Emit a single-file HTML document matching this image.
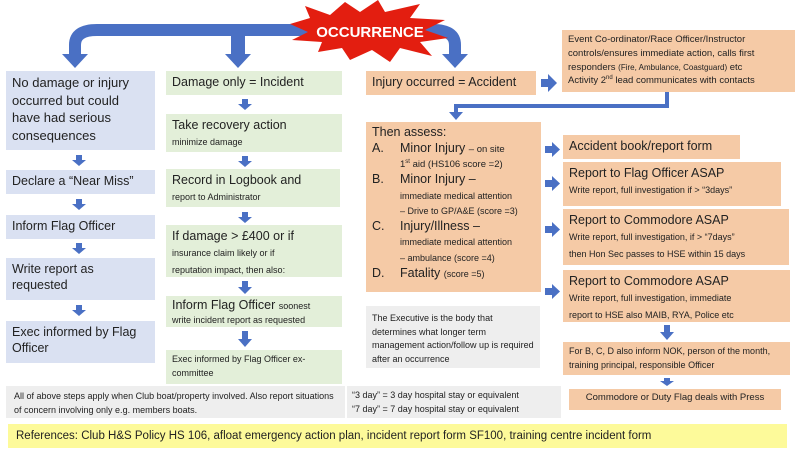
<!DOCTYPE html>
<html><head><meta charset="utf-8"><style>
body{margin:0;width:800px;height:450px;background:#fff;position:relative;overflow:hidden;font-family:"Liberation Sans",sans-serif;color:#222}
.b{position:absolute;box-sizing:border-box;padding:3px 6px;line-height:1.3}
.bl{background:#dae1f2}.gr{background:#e3efd9}.or{background:#f5caa6}.gy{background:#eeeeee}
.L{font-size:12.5px}.S{font-size:9px}.M{font-size:9.5px}
svg{position:absolute;left:0;top:0}
</style></head><body>
<svg width="800" height="450">
<path d="M75,56 L75,45 Q75,30 97,30 L433,30 Q455,30 455,45 L455,56" fill="none" stroke="#4a70c4" stroke-width="12"/>
<polygon points="62,54 88,54 75,68" fill="#4a70c4"/>
<polygon points="225,54 251,54 238,68" fill="#4a70c4"/>
<rect x="231" y="30" width="14" height="26" fill="#4a70c4"/>
<polygon points="442,54 468,54 455,68" fill="#4a70c4"/>
<polygon points="290,24 310,18 305,6 330,15 345,2 360,12 378,0 385,12 420,4 410,18 445,20 425,30 448,38 420,42 432,56 400,48 390,62 372,50 350,60 342,48 318,52 322,42 292,40 308,32" fill="#e31e10"/>
<text x="370" y="37" text-anchor="middle" font-family="Liberation Sans" font-weight="bold" font-size="15" fill="#fff">OCCURRENCE</text>
<path d="M667,92 L667,106 L456,106 L456,114" fill="none" stroke="#4a70c4" stroke-width="4"/>
<polygon points="449,112 463,112 456,120" fill="#4a70c4"/>
<g fill="#4a70c4">
<rect x="541" y="79" width="8" height="8"/><polygon points="548,74 557,83 548,92"/>
<rect x="545" y="146" width="8" height="7"/><polygon points="552,142 560,149.5 552,157"/>
<rect x="545" y="180" width="8" height="7"/><polygon points="552,176 560,183.5 552,191"/>
<rect x="545" y="226" width="8" height="7"/><polygon points="552,222 560,229.5 552,237"/>
<rect x="545" y="288" width="8" height="7"/><polygon points="552,284 560,291.5 552,299"/>
</g>
<g fill="#4a70c4">
<rect x="76" y="155" width="6" height="5"/><polygon points="72,160 86,160 79,166"/>
<rect x="76" y="199" width="6" height="5"/><polygon points="72,204 86,204 79,210"/>
<rect x="76" y="243" width="6" height="5"/><polygon points="72,248 86,248 79,254"/>
<rect x="76" y="305" width="6" height="5"/><polygon points="72,310 86,310 79,316"/>
<rect x="242" y="99" width="6" height="5"/><polygon points="238,104 252,104 245,110"/>
<rect x="242" y="156" width="6" height="5"/><polygon points="238,161 252,161 245,167"/>
<rect x="242" y="212" width="6" height="5"/><polygon points="238,217 252,217 245,223"/>
<rect x="242" y="281" width="6" height="6"/><polygon points="238,287 252,287 245,294"/>
<rect x="242" y="331" width="6" height="8"/><polygon points="238,339 252,339 245,347"/>
<rect x="664" y="325" width="6" height="7"/><polygon points="660,332 674,332 667,340"/>
<rect x="664" y="378" width="6" height="3"/><polygon points="660,381 674,381 667,386"/>
</g>
</svg>

<div class="b bl L" style="left:6px;top:71px;width:149px;height:79px;font-size:13px;line-height:1.35">No damage or injury occurred but could have had serious consequences</div>
<div class="b bl L" style="left:6px;top:170px;width:149px;height:24px">Declare a “Near Miss”</div>
<div class="b bl L" style="left:6px;top:215px;width:149px;height:24px">Inform Flag Officer</div>
<div class="b bl L" style="left:6px;top:258px;width:149px;height:42px">Write report as requested</div>
<div class="b bl L" style="left:6px;top:321px;width:149px;height:42px">Exec informed by Flag Officer</div>

<div class="b gr L" style="left:166px;top:71px;width:176px;height:24px">Damage only = Incident</div>
<div class="b gr L" style="left:166px;top:114px;width:176px;height:38px">Take recovery action<br><span class="S">minimize damage</span></div>
<div class="b gr L" style="left:166px;top:169px;width:174px;height:38px">Record in Logbook and<br><span class="S">report to Administrator</span></div>
<div class="b gr L" style="left:166px;top:225px;width:176px;height:52px">If damage &gt; £400 or if<br><span class="S" style="line-height:1.5">insurance claim likely or if<br>reputation impact, then also:</span></div>
<div class="b gr L" style="left:166px;top:296px;width:176px;height:31px;line-height:1.1">Inform Flag Officer <span class="S">soonest<br>write incident report as requested</span></div>
<div class="b gr S" style="left:166px;top:350px;width:176px;height:34px;line-height:1.5">Exec informed by Flag Officer ex-committee</div>

<div class="b or L" style="left:366px;top:71px;width:170px;height:24px">Injury occurred = Accident</div>
<div class="b or M" style="left:562px;top:30px;width:233px;height:62px;line-height:1.45">Event Co-ordinator/Race Officer/Instructor controls/ensures immediate action, calls first responders <span style="font-size:8px">(Fire, Ambulance, Coastguard)</span> etc<br>Activity 2<sup style="font-size:6px">nd</sup> lead communicates with contacts</div>

<div class="b or" style="left:366px;top:122px;width:175px;height:170px;padding:3px 6px;font-size:12.5px;line-height:1.25">
Then assess:
<div style="position:relative;padding-left:28px"><span style="position:absolute;left:0">A.</span>Minor Injury <span class="M">– on site<br>1<sup style="font-size:6px">st</sup> aid (HS106 score =2)</span></div>
<div style="position:relative;padding-left:28px"><span style="position:absolute;left:0">B.</span>Minor Injury –<br><span class="S">immediate medical attention<br>– Drive to GP/A&amp;E (score =3)</span></div>
<div style="position:relative;padding-left:28px"><span style="position:absolute;left:0">C.</span>Injury/Illness –<br><span class="S">immediate medical attention<br>– ambulance (score =4)</span></div>
<div style="position:relative;padding-left:28px"><span style="position:absolute;left:0">D.</span>Fatality <span class="S">(score =5)</span></div>
</div>

<div class="b or L" style="left:563px;top:135px;width:177px;height:24px">Accident book/report form</div>
<div class="b or L" style="left:563px;top:162px;width:218px;height:44px">Report to Flag Officer ASAP<br><span class="S">Write report, full investigation if &gt; “3days”</span></div>
<div class="b or L" style="left:563px;top:209px;width:226px;height:56px">Report to Commodore ASAP<br><span class="S" style="line-height:1.5">Write report, full investigation, if &gt; “7days”<br>then Hon Sec passes to HSE within 15 days</span></div>
<div class="b or L" style="left:563px;top:270px;width:227px;height:52px">Report to Commodore ASAP<br><span class="S" style="line-height:1.5">Write report, full investigation, immediate<br>report to HSE also MAIB, RYA, Police etc</span></div>
<div class="b or S" style="left:563px;top:342px;width:227px;height:33px;line-height:1.55">For B, C, D also inform NOK, person of the month, training principal, responsible Officer</div>
<div class="b or M" style="left:569px;top:389px;width:212px;height:21px;text-align:center">Commodore or Duty Flag deals with Press</div>

<div class="b gy S" style="left:366px;top:306px;width:174px;height:62px;line-height:1.5;padding:6px 6px">The Executive is the body that determines what longer term management action/follow up is required after an occurrence</div>
<div class="b gy S" style="left:6px;top:386px;width:339px;height:32px;line-height:1.5;padding:4px 8px">All of above steps apply when Club boat/property involved. Also report situations of concern involving only e.g. members boats.</div>
<div class="b gy S" style="left:347px;top:386px;width:214px;height:32px;line-height:1.5;padding:3px 5px">“3 day” = 3 day hospital stay or equivalent<br>“7 day” = 7 day hospital stay or equivalent</div>
<div class="b" style="left:8px;top:424px;width:779px;height:24px;background:#fdfa9a;font-size:11.5px;padding:5px 8px">References: Club H&amp;S Policy HS 106, afloat emergency action plan, incident report form SF100, training centre incident form</div>
</body></html>
